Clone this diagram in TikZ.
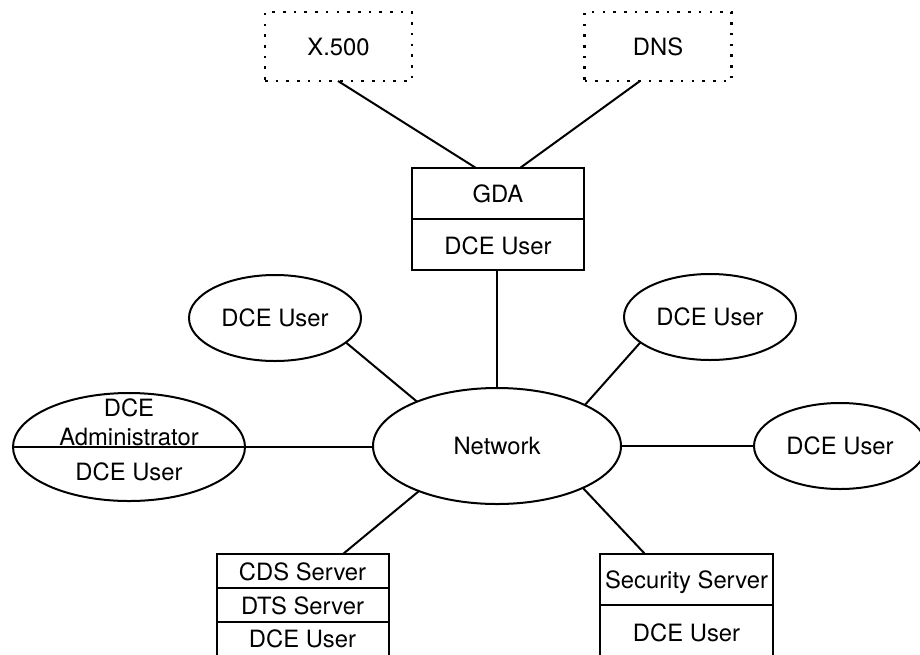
\documentclass[tikz,border=0pt]{standalone}
\usepackage{fontspec}
\setmainfont{TeX Gyre Heros}
\usetikzlibrary{shapes.geometric}
\tikzset{
  base/.style={draw=black,line width=2pt,inner sep=0pt,outer sep=0pt,align=center,font=\fontsize{23.8}{29.5}\selectfont,text=black},
  cell/.style={base,rectangle,minimum width=#1},
  oval/.style={base,ellipse,minimum width=172pt,minimum height=86pt},
  dotbox/.style={base,rectangle,line width=2.6pt,dash pattern=on 2.6pt off 8.1pt,minimum width=147pt,minimum height=69pt},
  link/.style={line width=2pt,draw=black},
  drop/.style={text height=#1,text depth=0pt}
}
\begin{document}
\begin{tikzpicture}[x=1pt,y=-1pt]
\useasboundingbox (0,0) rectangle (920,654);
\clip (0,0) rectangle (920,654);
\node[dotbox] (x500) at (338.5,46.5) {X.500};
\node[dotbox] (dns) at (658,46.5) {DNS};
\node[cell=172pt,minimum height=51pt,drop=18pt] (gda) at (498,193.5) {GDA};
\node[cell=172pt,minimum height=51pt,drop=20pt] (gdau) at (498,244.5) {DCE User};
\node[base,ellipse,minimum width=248pt,minimum height=116pt] (net) at (497,446) {Network};
\node[oval] (ul) at (275,318) {DCE User};
\node[oval] (ur) at (710,317) {DCE User};
\node[oval] (re) at (840,446) {DCE User};
\node[base,ellipse,minimum width=232pt,minimum height=108pt] (adm) at (129,447) {};
\node[base,draw=none] (admt) at (129,422.5) {DCE\\Administrator};
\node[base,draw=none] (admu) at (129,472) {DCE User};
\draw[link] (adm.west) -- (adm.east);
\node[cell=172pt,minimum height=34pt,drop=18pt] (cds) at (302.5,571) {CDS Server};
\node[cell=172pt,minimum height=34pt,drop=18pt] (dts) at (302.5,605) {DTS Server};
\node[cell=172pt,minimum height=34pt,drop=17pt] (cdsu) at (302.5,639) {DCE User};
\node[cell=173pt,minimum height=51pt,drop=17pt] (sec) at (686.5,579.5) {Security Server};
\node[cell=173pt,minimum height=51pt,drop=21pt] (secu) at (686.5,630.5) {DCE User};
\draw[link] ([xshift=-0.5pt]x500.south) -- ([xshift=-22pt]gda.north);
\draw[link] ([xshift=-18pt]dns.south) -- ([xshift=22pt]gda.north);
\draw[link] (gdau.south -| net.north) -- (net.north);
\draw[link] (ul.-19) -- (net.151.7);
\draw[link] (ur.200) -- (net.25);
\draw[link] (adm.east) -- (adm.east -| net.west);
\draw[link] (net.east) -- (re.west);
\draw[link] ([xshift=40.5pt]cds.north) -- (net.210);
\draw[link] ([xshift=-41.5pt]sec.north) -- (net.-26);
\end{tikzpicture}
\end{document}
